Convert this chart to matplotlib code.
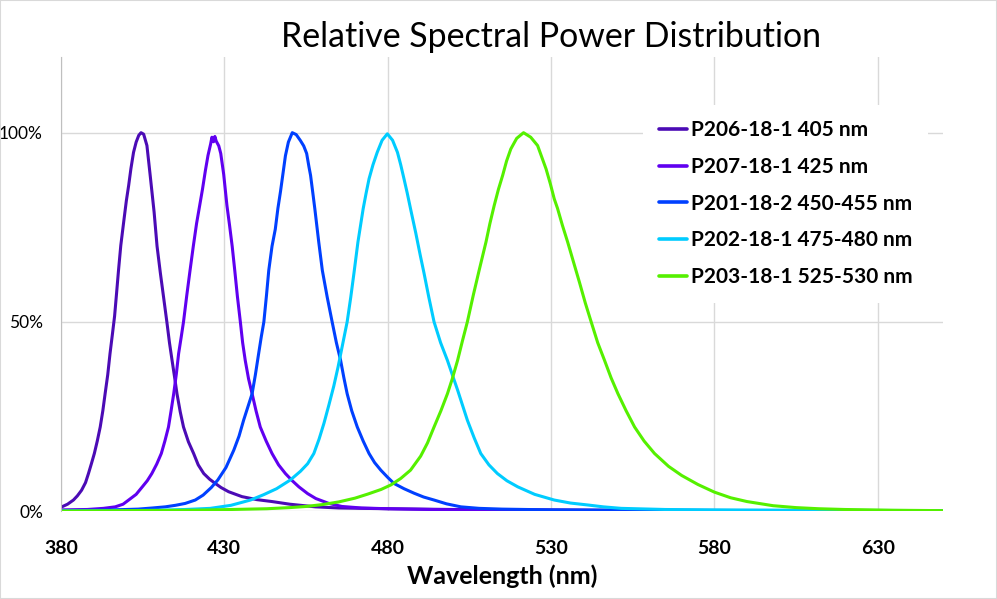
import matplotlib
matplotlib.use("Agg")
import matplotlib.pyplot as plt
from matplotlib.patches import Rectangle
from matplotlib.ticker import PercentFormatter

plt.rcParams['font.family'] = ['Lato', 'DejaVu Sans']

# wavelength (nm) / relative power pairs
nm_405 = [380.0, 382.0, 383.8, 385.0, 386.3, 387.5, 388.4, 389.3, 390.2, 391.1, 392.0, 392.8,
          393.5, 394.3, 395.0, 395.7, 396.4, 397.0, 397.6, 398.3, 399.3, 400.0, 400.7, 401.4,
          402.2, 403.0, 403.8, 404.5, 405.3, 406.3, 407.3, 408.5, 409.4, 410.4, 411.4, 412.4,
          413.2, 414.0, 414.8, 415.5, 416.5, 417.5, 419.0, 420.6, 422.0, 423.7, 425.5, 427.2,
          429.0, 431.3, 433.5, 435.4, 440.0, 444.6, 450.0, 457.9, 465, 480, 500, 525, 550, 600, 650]
pw_405 = [0.010, 0.018, 0.029, 0.040, 0.055, 0.075, 0.099, 0.125, 0.152, 0.185, 0.222, 0.265,
          0.31, 0.36, 0.416, 0.465, 0.515, 0.575, 0.636, 0.702, 0.772, 0.82, 0.86, 0.905,
          0.948, 0.975, 0.993, 1.0, 0.996, 0.966, 0.887, 0.79, 0.70, 0.63, 0.565, 0.5,
          0.445, 0.398, 0.352, 0.31, 0.262, 0.222, 0.183, 0.152, 0.122, 0.099, 0.084, 0.073,
          0.062, 0.051, 0.044, 0.038, 0.030, 0.025, 0.018, 0.011, 0.008, 0.006, 0.004, 0.003,
          0.002, 0.001, 0.001]

nm_425 = [380, 388, 393, 396.6, 399, 400.7, 403, 404.9, 406.4, 407.8, 409.3, 410.7, 411.8,
          412.9, 413.7, 414.5, 415.3, 416.0, 416.8, 417.5, 418.5, 419.5, 420.5, 421.5, 422.5,
          423.3, 424.2, 425.0, 425.8, 426.2, 426.7, 427.1, 427.5, 428.3, 428.9, 429.8, 430.8,
          431.6, 432.4, 433.2, 434.0, 434.9, 435.6, 436.4, 437.4, 438.5, 439.7, 441.0, 442.8,
          444.6, 446.6, 448.7, 450.8, 452.8, 455.5, 458, 462, 466, 472, 480, 500, 550, 650]
pw_425 = [0.003, 0.004, 0.007, 0.011, 0.018, 0.029, 0.044, 0.064, 0.08, 0.099, 0.124, 0.152, 0.185,
          0.222, 0.265, 0.31, 0.362, 0.416, 0.46, 0.5, 0.57, 0.636, 0.70, 0.76, 0.81,
          0.85, 0.90, 0.94, 0.97, 0.988, 0.976, 0.99, 0.978, 0.965, 0.945, 0.89, 0.807,
          0.755, 0.70, 0.635, 0.567, 0.5, 0.445, 0.398, 0.35, 0.31, 0.265, 0.222, 0.185,
          0.152, 0.122, 0.099, 0.080, 0.064, 0.046, 0.033, 0.020, 0.012, 0.008, 0.006, 0.003,
          0.001, 0.0]

nm_450 = [380, 390, 400, 403.6, 408, 411.9, 415, 418.0, 421.1, 423.5, 426.0, 428.0, 430.5,
          432.9, 434.5, 435.9, 437.2, 438.5, 439.5, 440.5, 441.3, 442.1, 442.9, 443.6, 444.6,
          445.6, 446.4, 447.2, 448.0, 448.7, 449.6, 450.8, 452.0, 453.3, 454.3, 455.2, 455.9,
          456.4, 457.1, 457.7, 458.3, 458.9, 460.0, 461.5, 463.0, 464.3, 465.6, 466.6, 467.6,
          469.0, 470.7, 472.5, 474.3, 476.0, 477.9, 480.0, 481.9, 485.0, 488.1, 491.0, 494.2,
          498, 502.4, 508, 515, 530, 550, 600, 650]
pw_450 = [0.001, 0.002, 0.004, 0.005, 0.008, 0.011, 0.015, 0.020, 0.029, 0.042, 0.062, 0.082, 0.115,
          0.161, 0.198, 0.24, 0.275, 0.31, 0.36, 0.416, 0.46, 0.5, 0.57, 0.636, 0.70,
          0.745, 0.80, 0.845, 0.895, 0.939, 0.975, 1.0, 0.995, 0.979, 0.965, 0.945, 0.91,
          0.887, 0.84, 0.799, 0.755, 0.711, 0.636, 0.565, 0.5, 0.445, 0.398, 0.352, 0.31,
          0.265, 0.222, 0.185, 0.152, 0.128, 0.108, 0.089, 0.073, 0.059, 0.047, 0.037, 0.029,
          0.019, 0.011, 0.007, 0.005, 0.003, 0.002, 0.001, 0.001]

nm_475 = [380, 400, 410, 418, 425.7, 432, 438.0, 442, 446, 450.2, 453.3, 455.5, 457.4, 459.0,
          460.5, 462.0, 463.5, 464.8, 466.2, 467.6, 468.7, 469.7, 470.9, 472.5, 473.4, 474.3,
          475.5, 476.8, 478.3, 479.9, 481.5, 483.0, 484.0, 485.0, 486.0, 487.1, 488.6, 490.0,
          491.1, 492.6, 494.2, 496.2, 498.3, 500.0, 501.4, 502.9, 504.4, 506.5, 508.5, 511.0,
          513.6, 516.5, 519.8, 525, 531.0, 536, 541.2, 546, 551.5, 565, 580, 610, 650]
pw_475 = [0.0, 0.001, 0.002, 0.004, 0.007, 0.015, 0.029, 0.043, 0.059, 0.082, 0.105, 0.125, 0.152, 0.19,
          0.232, 0.28, 0.33, 0.38, 0.44, 0.5, 0.565, 0.63, 0.711, 0.799, 0.84, 0.878,
          0.915, 0.948, 0.98, 0.997, 0.98, 0.948, 0.915, 0.878, 0.84, 0.795, 0.735, 0.675,
          0.63, 0.565, 0.5, 0.445, 0.398, 0.355, 0.32, 0.28, 0.24, 0.193, 0.152, 0.122,
          0.099, 0.08, 0.064, 0.044, 0.029, 0.021, 0.016, 0.011, 0.007, 0.004, 0.003, 0.002, 0.001]

nm_525 = [380, 400, 420, 432, 443, 450, 455, 460, 465, 470, 474, 478, 481, 484, 487, 490.1,
          492.2, 494.2, 496.3, 498.3, 499.8, 501.4, 502.9, 504.4, 506.2, 508.0, 510.1, 511.3,
          512.6, 513.9, 515.2, 516.4, 517.7, 519.5, 521.6, 523.8, 525.9, 527.2, 528.5, 529.8,
          531.0, 532.0, 533.5, 535.1, 537.0, 538.7, 540.5, 542.3, 544.3, 546.4, 548.4, 550.5,
          553.0, 555.6, 558.5, 561.7, 566, 570, 575, 580, 585, 590, 598, 605, 612, 620, 635, 650]
pw_525 = [0.0, 0.001, 0.002, 0.004, 0.006, 0.009, 0.012, 0.017, 0.024, 0.034, 0.045, 0.057, 0.069,
          0.086, 0.108, 0.145, 0.18, 0.222, 0.265, 0.31, 0.35, 0.398, 0.45, 0.5, 0.57, 0.636,
          0.711, 0.76, 0.807, 0.85, 0.887, 0.925, 0.957, 0.985, 1.0, 0.988, 0.966, 0.935,
          0.904, 0.865, 0.825, 0.80, 0.755, 0.711, 0.655, 0.605, 0.55, 0.5, 0.445, 0.398,
          0.352, 0.31, 0.265, 0.222, 0.185, 0.152, 0.118, 0.094, 0.07, 0.05, 0.035, 0.025,
          0.014, 0.009, 0.006, 0.004, 0.002, 0.001]

labels = ['P206-18-1 405 nm', 'P207-18-1 425 nm', 'P201-18-2 450-455 nm',
          'P202-18-1 475-480 nm', 'P203-18-1 525-530 nm']
colors = ['#4B0BB5', '#6000F0', '#0040FF', '#00CCFF', '#55F000']

xticks = [380, 430, 480, 530, 580, 630]
yticks = [0, 0.5, 1.0]

fig = plt.figure(figsize=(9.97, 5.99), dpi=100)
ax = fig.add_axes([0.0612, 0.1469, 0.8846, 0.7579])

series = [(nm_405, pw_405), (nm_425, pw_425), (nm_450, pw_450), (nm_475, pw_475), (nm_525, pw_525)]
for (x, y), lab, c in zip(series, labels, colors):
    ax.plot(x, y, color=c, lw=2.2, label=lab, solid_joinstyle='round', solid_capstyle='round')

ax.set_xlim(380, 650)
ax.set_ylim(0, 1.2)
ax.set_xticks(xticks)
ax.set_yticks(yticks)
ax.yaxis.set_major_formatter(PercentFormatter(1.0, decimals=0))
ax.grid(True, color='#D9D9D9', lw=1)
ax.set_axisbelow(True)
ax.tick_params(length=0)
ax.tick_params(axis='x', pad=21, labelsize=14)
ax.tick_params(axis='y', pad=13, labelsize=12.5)
for t in ax.get_xticklabels():
    t.set_fontweight('bold')
for s in ['top', 'right', 'bottom']:
    ax.spines[s].set_visible(False)
ax.spines['left'].set_color('#BFBFBF')

ax.set_xlabel('Wavelength (nm)', fontsize=18, fontweight='bold', labelpad=5)
fig.text(0.5527, 1 - 37 / 599, 'Relative Spectral Power Distribution', fontsize=24.4,
         ha='center', va='center')

leg = ax.legend(loc='upper left', bbox_to_anchor=(0.645, 0.825), bbox_transform=fig.transFigure,
                frameon=True, facecolor='white', edgecolor='none', framealpha=1, fancybox=False,
                borderaxespad=0, borderpad=0.75,
                handlelength=1.35, handletextpad=0.2, labelspacing=0.8,
                prop={'weight': 'bold', 'size': 15})
for line in leg.get_lines():
    line.set_linewidth(2.6)

fig.patches.append(Rectangle((0, 0), 1, 1, transform=fig.transFigure, fill=False,
                             edgecolor='#D9D9D9', lw=1.5))

fig.savefig('out.png', dpi=100)
